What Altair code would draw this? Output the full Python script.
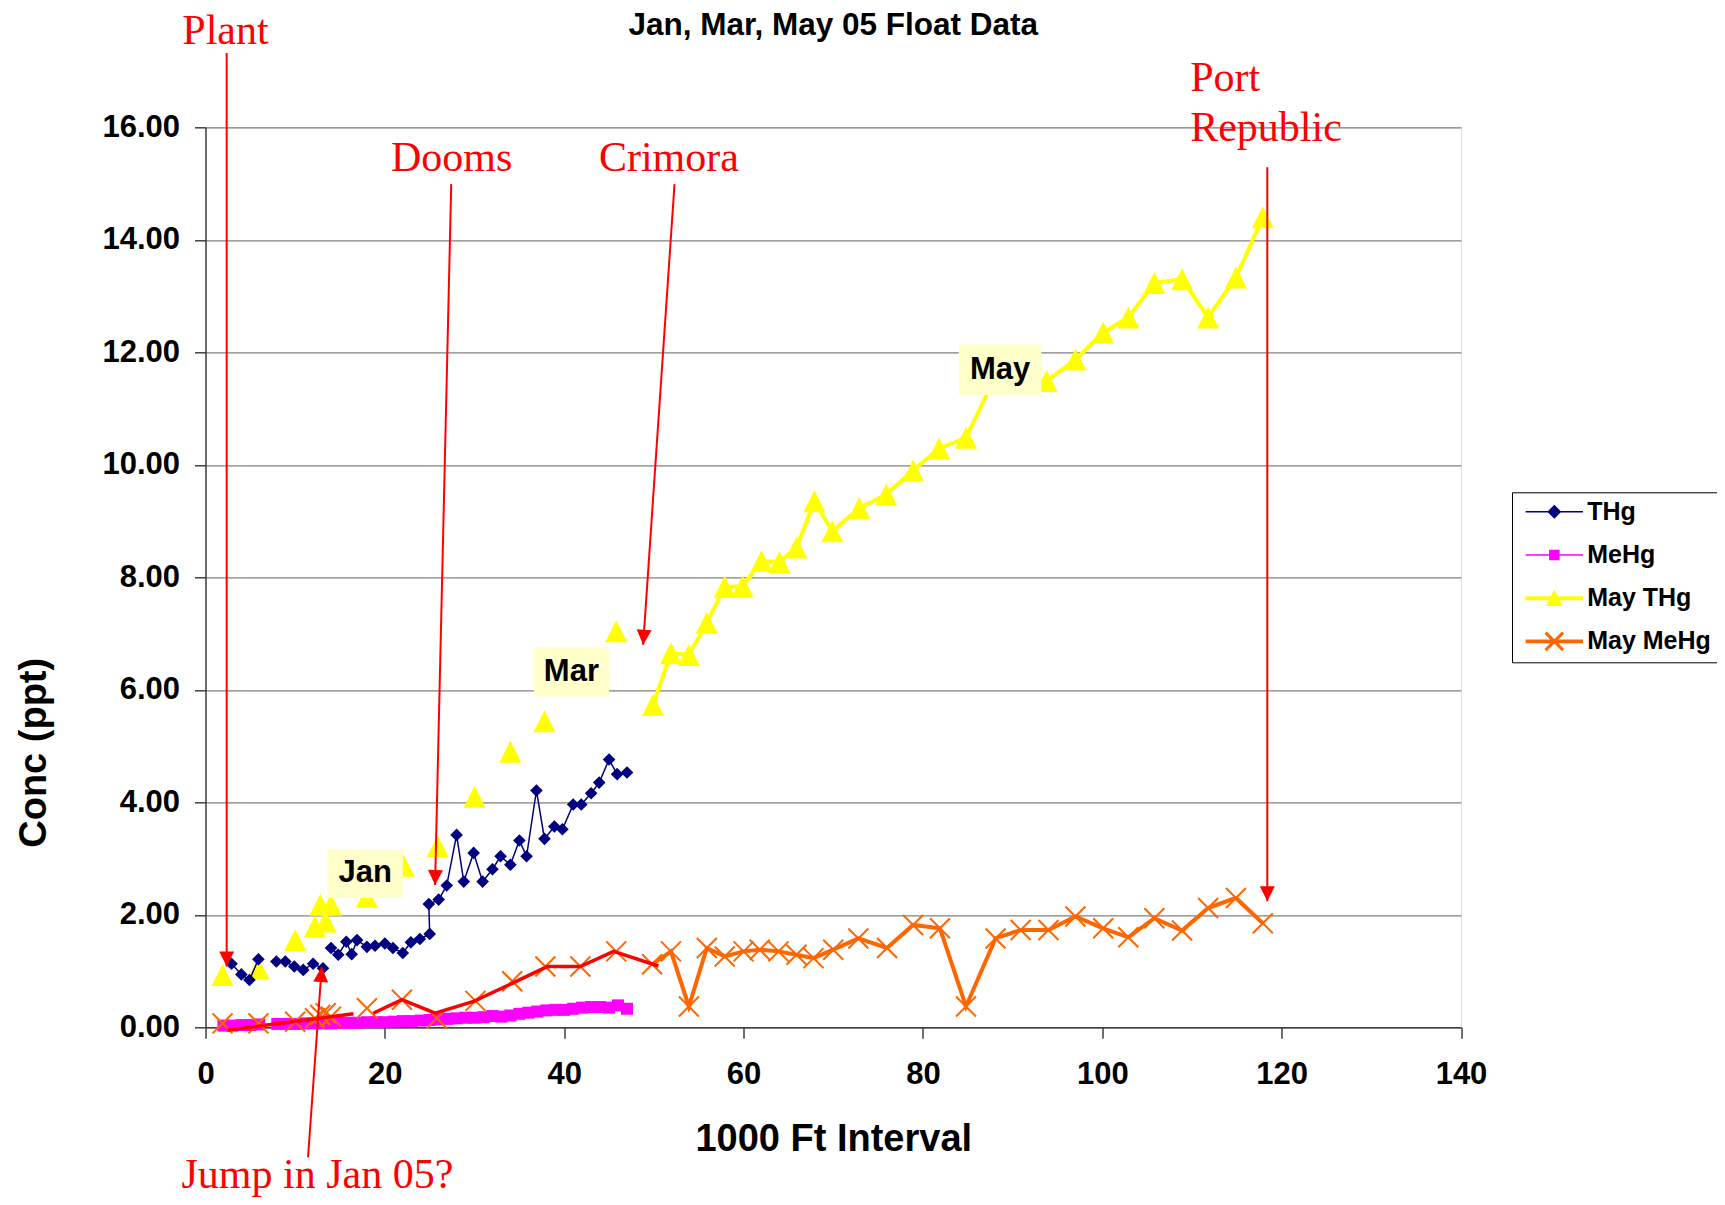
import math
import altair as alt
import pandas as pd

# ---------------- data ----------------
SERIES = ["THg", "MeHg", "May THg", "May MeHg"]
COLORS = ["#000080", "#FF00FF", "#FFFF00", "#FF6600"]

# Jan / Mar THg (None = gap in the line)
thg_x = [2.9, 4.0, 4.9, 5.9, None, 7.9, 8.9, 9.9, 10.9, 12.0, 13.1, None, 14.0, 14.8, 15.7, 16.3, 16.9,
         18.0, 18.9, 20.0, 20.9, 22.0, 22.9, 23.9, 25.0, 24.9, 26.0, 26.9, 28.0, 28.8, 29.9, 30.9, 32.0,
         32.9, 34.0, 35.0, 35.8, 36.9, 37.8, 38.9, 39.8, 41.0, 41.9, 43.0, 43.9, 45.0, 45.9, 47.0]
thg_y = [1.13, 0.94, 0.84, 1.21, None, 1.17, 1.17, 1.08, 1.02, 1.13, 1.05, None, 1.41, 1.29, 1.52, 1.30, 1.55,
         1.43, 1.45, 1.49, 1.41, 1.32, 1.51, 1.57, 1.66, 2.19, 2.27, 2.52, 3.42, 2.59, 3.10, 2.59, 2.81,
         3.04, 2.89, 3.32, 3.04, 4.21, 3.35, 3.57, 3.52, 3.96, 3.96, 4.16, 4.35, 4.76, 4.50, 4.53]

# Jan / Mar MeHg
mehg_x = [2, 3, 4, 5, 6, 8, 9, 10, 11, 12, 13, 14, 15, 16, 17, 18, 19, 20, 21, 22, 23, 24, 25, 26, 27,
          28, 29, 30, 31, 32, 33, 34, 35, 36, 37, 38, 39, 40, 41, 42, 43, 44, 45, 46, 47]
mehg_y = [0.03, 0.03, 0.04, 0.04, 0.05, 0.06, 0.06, 0.06, 0.07, 0.07, 0.07, 0.07, 0.08, 0.08, 0.08,
          0.09, 0.09, 0.09, 0.10, 0.11, 0.11, 0.12, 0.13, 0.14, 0.15, 0.16, 0.17, 0.17, 0.18, 0.20,
          0.19, 0.21, 0.24, 0.26, 0.28, 0.30, 0.31, 0.31, 0.33, 0.35, 0.36, 0.36, 0.35, 0.39, 0.33]

# May THg: unconnected markers, then connected run
may_thg_pts_x = [1.9, 5.9, 10.0, 12.2, 12.8, 13.4, 14.0, 18.0, 22.1, 25.9, 30.0, 34.0, 37.8, 42.0, 45.8]
may_thg_pts_y = [0.93, 1.05, 1.55, 1.79, 2.18, 1.88, 2.18, 2.32, 2.87, 3.22, 4.10, 4.90, 5.44, 6.30, 7.04]
may_thg_x = [49.9, 51.9, 53.9, 55.9, 57.9, 59.9, 62.0, 64.0, 65.9, 67.9, 69.9, 72.9, 75.9, 78.9, 81.8,
             84.8, 88.0, 93.8, 97.0, 100.1, 102.9, 105.8, 108.9, 111.8, 114.9, 117.9]
may_thg_y = [5.73, 6.65, 6.62, 7.19, 7.83, 7.84, 8.29, 8.27, 8.53, 9.35, 8.82, 9.23, 9.47, 9.90, 10.29,
             10.48, 11.55, 11.49, 11.87, 12.35, 12.62, 13.23, 13.30, 12.62, 13.33, 14.40]

# May MeHg: unconnected markers, then connected run
may_mehg_pts_x = [1.9, 5.9, 10.0, 12.2, 12.8, 13.4, 14.0, 18.0, 21.9, 25.8, 30.1, 34.2, 37.9, 41.8, 45.8]
may_mehg_pts_y = [0.07, 0.07, 0.10, 0.16, 0.22, 0.25, 0.19, 0.34, 0.49, 0.16, 0.47, 0.82, 1.08, 1.08, 1.35]
may_mehg_x = [49.8, 51.9, 53.9, 55.9, 57.9, 60.0, 61.8, 63.9, 65.9, 67.8, 70.0, 72.8, 76.0, 78.9, 81.9,
              84.8, 88.1, 90.9, 94.0, 97.0, 100.1, 102.9, 105.8, 108.9, 111.8, 114.9, 117.9]
may_mehg_y = [1.12, 1.35, 0.37, 1.41, 1.26, 1.35, 1.38, 1.35, 1.29, 1.23, 1.38, 1.58, 1.41, 1.82, 1.76,
              0.37, 1.58, 1.73, 1.73, 1.97, 1.76, 1.60, 1.94, 1.72, 2.12, 2.30, 1.85]

# hand-drawn red trace over the early May MeHg values
red_x = [2.5, 16.5, None, 18.7, 21.9, 25.6, 29.9, 34.3, 38.1, 41.8, 45.5, 50.5]
red_y = [-0.05, 0.24, None, 0.25, 0.49, 0.25, 0.46, 0.79, 1.08, 1.08, 1.35, 1.09]

# annotation arrows (start -> tip), in data units
arrow_name = ["Plant", "Dooms", "Crimora", "Port Republic", "Jump"]
arrow_x0 = [2.36, 27.4, 52.3, 118.4, 11.43]
arrow_y0 = [17.32, 14.99, 14.99, 15.29, -2.31]
arrow_x1 = [2.36, 25.6, 48.8, 118.4, 12.96]
arrow_y1 = [1.08, 2.53, 6.80, 2.24, 1.07]

# red annotation texts
note_c_text = ["Plant", "Dooms", "Crimora"]
note_c_x = [2.23, 27.44, 51.67]
note_c_y = [17.48, 15.23, 15.23]
note_l_text = ["Port", "Republic", "Jump in Jan 05?"]
note_l_x = [109.8, 109.8, -2.68]
note_l_y = [16.64, 15.76, -2.86]

# month label boxes
box_text = ["Jan", "Mar", "May"]
box_x0 = [13.6, 36.6, 84.0]
box_x1 = [22.0, 45.0, 93.2]
box_y0 = [2.30, 5.88, 11.24]
box_y1 = [3.17, 6.76, 12.14]

# ---------------- helpers ----------------
W, H = 1255.5, 900.0
X_MAX, Y_MAX = 140.0, 16.0
PX_X, PX_Y = W / X_MAX, H / Y_MAX

def seg_df(xs, ys):
    rows, seg, i = [], 0, 0
    for x, y in zip(xs, ys):
        if x is None or y is None:
            seg += 1
            continue
        rows.append({"x": x, "y": y, "seg": seg, "i": i})
        i += 1
    return pd.DataFrame(rows)

FONT = "Liberation Sans"
SERIF = "Liberation Serif"

xscale = alt.Scale(domain=[0, X_MAX], nice=False, zero=False)
yscale = alt.Scale(domain=[0, Y_MAX], nice=False, zero=False)

xaxis = alt.Axis(values=list(range(0, 141, 20)), format="d", grid=False,
                 title="1000 Ft Interval", titleFont=FONT, titleFontSize=38, titleFontWeight="bold",
                 titleColor="black", titleY=123, titleBaseline="alphabetic",
                 labelFont=FONT, labelFontSize=31, labelFontWeight="bold", labelColor="black",
                 labelPadding=21, labelFlush=False, labelOverlap=False,
                 tickSize=11, tickColor="#404040", tickWidth=1.5,
                 domainColor="#404040", domainWidth=1.5)
yaxis = alt.Axis(values=list(range(0, 17, 2)), format=".2f", grid=True, gridColor="#808080", gridWidth=1.3,
                 title="Conc (ppt)", titleFont=FONT, titleFontSize=38, titleFontWeight="bold",
                 titleColor="black", titleX=-160.5, titleY=625, titleBaseline="alphabetic",
                 titleAlign="center", titleAngle=270,
                 labelFont=FONT, labelFontSize=31, labelFontWeight="bold", labelColor="black",
                 labelPadding=15, labelOverlap=False,
                 tickSize=11, tickColor="#404040", tickWidth=1.5,
                 domainColor="#404040", domainWidth=1.5)

def X(f="x"):
    return alt.X(f"{f}:Q", scale=xscale, axis=xaxis)

def Y(f="y"):
    return alt.Y(f"{f}:Q", scale=yscale, axis=yaxis)

TRI = "M0,-1L1,1L-1,1Z"
XSHAPE = "M-1,-1L1,1M-1,1L1,-1"
ARROWHEAD = "M0,0L-1,-2L1,-2Z"

layers = []

# May THg
d = seg_df(may_thg_pts_x, may_thg_pts_y)
layers.append(alt.Chart(d).mark_point(shape=TRI, filled=True, size=484, color=COLORS[2], opacity=1)
              .encode(x=X(), y=Y()))
d = seg_df(may_thg_x, may_thg_y)
layers.append(alt.Chart(d).mark_line(color=COLORS[2], strokeWidth=4)
              .encode(x=X(), y=Y(), order="i:Q"))
layers.append(alt.Chart(d).mark_point(shape=TRI, filled=True, size=484, color=COLORS[2], opacity=1)
              .encode(x=X(), y=Y()))

# MeHg
d = seg_df(mehg_x, mehg_y)
layers.append(alt.Chart(d).mark_line(color=COLORS[1], strokeWidth=1.5)
              .encode(x=X(), y=Y(), order="i:Q"))
layers.append(alt.Chart(d).mark_point(shape="square", filled=True, size=144, color=COLORS[1], opacity=1)
              .encode(x=X(), y=Y()))

# THg
d = seg_df(thg_x, thg_y)
layers.append(alt.Chart(d).mark_line(color=COLORS[0], strokeWidth=1.5)
              .encode(x=X(), y=Y(), detail="seg:N", order="i:Q"))
layers.append(alt.Chart(d).mark_point(shape="diamond", filled=True, size=160, color=COLORS[0], opacity=1)
              .encode(x=X(), y=Y()))

# May MeHg
d = seg_df(may_mehg_pts_x, may_mehg_pts_y)
layers.append(alt.Chart(d).mark_point(shape=XSHAPE, filled=False, size=400, color=COLORS[3],
                                      strokeWidth=2, opacity=1)
              .encode(x=X(), y=Y()))
d = seg_df(may_mehg_x, may_mehg_y)
layers.append(alt.Chart(d).mark_line(color=COLORS[3], strokeWidth=4)
              .encode(x=X(), y=Y(), order="i:Q"))
layers.append(alt.Chart(d).mark_point(shape=XSHAPE, filled=False, size=400, color=COLORS[3],
                                      strokeWidth=2, opacity=1)
              .encode(x=X(), y=Y()))

# red trace
d = seg_df(red_x, red_y)
layers.append(alt.Chart(d).mark_line(color="#FF0000", strokeWidth=3.5)
              .encode(x=X(), y=Y(), detail="seg:N", order="i:Q"))

# month boxes
bd = pd.DataFrame({"t": box_text, "x0": box_x0, "x1": box_x1, "y0": box_y0, "y1": box_y1})
bd["cx"] = (bd["x0"] + bd["x1"]) / 2
bd["cy"] = (bd["y0"] + bd["y1"]) / 2
layers.append(alt.Chart(bd).mark_rect(color="#FFFFCC", opacity=1)
              .encode(x=X("x0"), x2="x1:Q", y=Y("y0"), y2="y1:Q"))
layers.append(alt.Chart(bd).mark_text(font=FONT, fontSize=31, fontWeight="bold", color="black",
                                      align="center", baseline="middle")
              .encode(x=X("cx"), y=Y("cy"), text="t:N"))

# arrows
ad = pd.DataFrame({"n": arrow_name, "x0": arrow_x0, "y0": arrow_y0, "x1": arrow_x1, "y1": arrow_y1})
ad["ang"] = [math.degrees(math.atan2(-(b - a) * PX_X, -(d1 - c) * PX_Y)) % 360
             for a, b, c, d1 in zip(arrow_x0, arrow_x1, arrow_y0, arrow_y1)]
layers.append(alt.Chart(ad).mark_rule(color="#FF0000", strokeWidth=2)
              .encode(x=X("x0"), x2="x1:Q", y=Y("y0"), y2="y1:Q"))
layers.append(alt.Chart(ad).mark_point(shape=ARROWHEAD, filled=True, size=225, color="#FF0000", opacity=1)
              .encode(x=X("x1"), y=Y("y1"), angle=alt.Angle("ang:Q", scale=None)))

# red texts
nc = pd.DataFrame({"t": note_c_text, "x": note_c_x, "y": note_c_y})
layers.append(alt.Chart(nc).mark_text(font=SERIF, fontSize=42, color="#FF0000", align="center",
                                      baseline="alphabetic")
              .encode(x=X(), y=Y(), text="t:N"))
nl = pd.DataFrame({"t": note_l_text, "x": note_l_x, "y": note_l_y})
layers.append(alt.Chart(nl).mark_text(font=SERIF, fontSize=42, color="#FF0000", align="left",
                                      baseline="alphabetic")
              .encode(x=X(), y=Y(), text="t:N"))

# legend (symbols = line + marker, drawn by the legend itself)
LEG_SHAPES = [
    "M-4.1,-0.11H4.1V0.11H-4.1Z M0,-1L1,0L0,1L-1,0Z",
    "M-4.1,-0.11H4.1V0.11H-4.1Z M-0.75,-0.75H0.75V0.75H-0.75Z",
    "M-4.1,-0.28H4.1V0.28H-4.1Z M0,-1.2L1.2,1.1H-1.2Z",
    "M-4.1,-0.28H4.1V0.28H-4.1Z M-1.1,-1.4L1.4,1.1L1.1,1.4L-1.4,-1.1Z M1.1,-1.4L1.4,-1.1L-1.1,1.4L-1.4,1.1Z",
]
leg = alt.Legend(title=None, orient="none", legendX=1306.5, legendY=365,
                 strokeColor="#000000", fillColor="#FFFFFF", padding=7,
                 labelFont=FONT, labelFontSize=25, labelFontWeight="bold", labelColor="black",
                 symbolSize=196, symbolOffset=22.8, labelOffset=20.4, rowPadding=17.2,
                 symbolStrokeWidth=0, labelLimit=400)
ld = pd.DataFrame({"series": SERIES})
layers.append(alt.Chart(ld).transform_filter("false").mark_point(filled=True, opacity=1)
              .encode(color=alt.Color("series:N", scale=alt.Scale(domain=SERIES, range=COLORS), legend=leg),
                      shape=alt.Shape("series:N", scale=alt.Scale(domain=SERIES, range=LEG_SHAPES), legend=leg)))

chart = alt.layer(*layers).properties(
    width=W, height=H,
    padding={"left": 197.5, "top": 119.3, "right": 256, "bottom": 169.7},
    autosize=alt.AutoSizeParams(type="none"),
    title=alt.TitleParams("Jan, Mar, May 05 Float Data", font=FONT, fontSize=31.5, fontWeight="bold",
                          color="black", anchor="middle", frame="group", baseline="alphabetic",
                          offset=-56),
).configure_view(stroke="#808080", strokeWidth=1.5).configure(background="white")

chart.save("out.html", embed_options={"renderer": "svg", "actions": False})
